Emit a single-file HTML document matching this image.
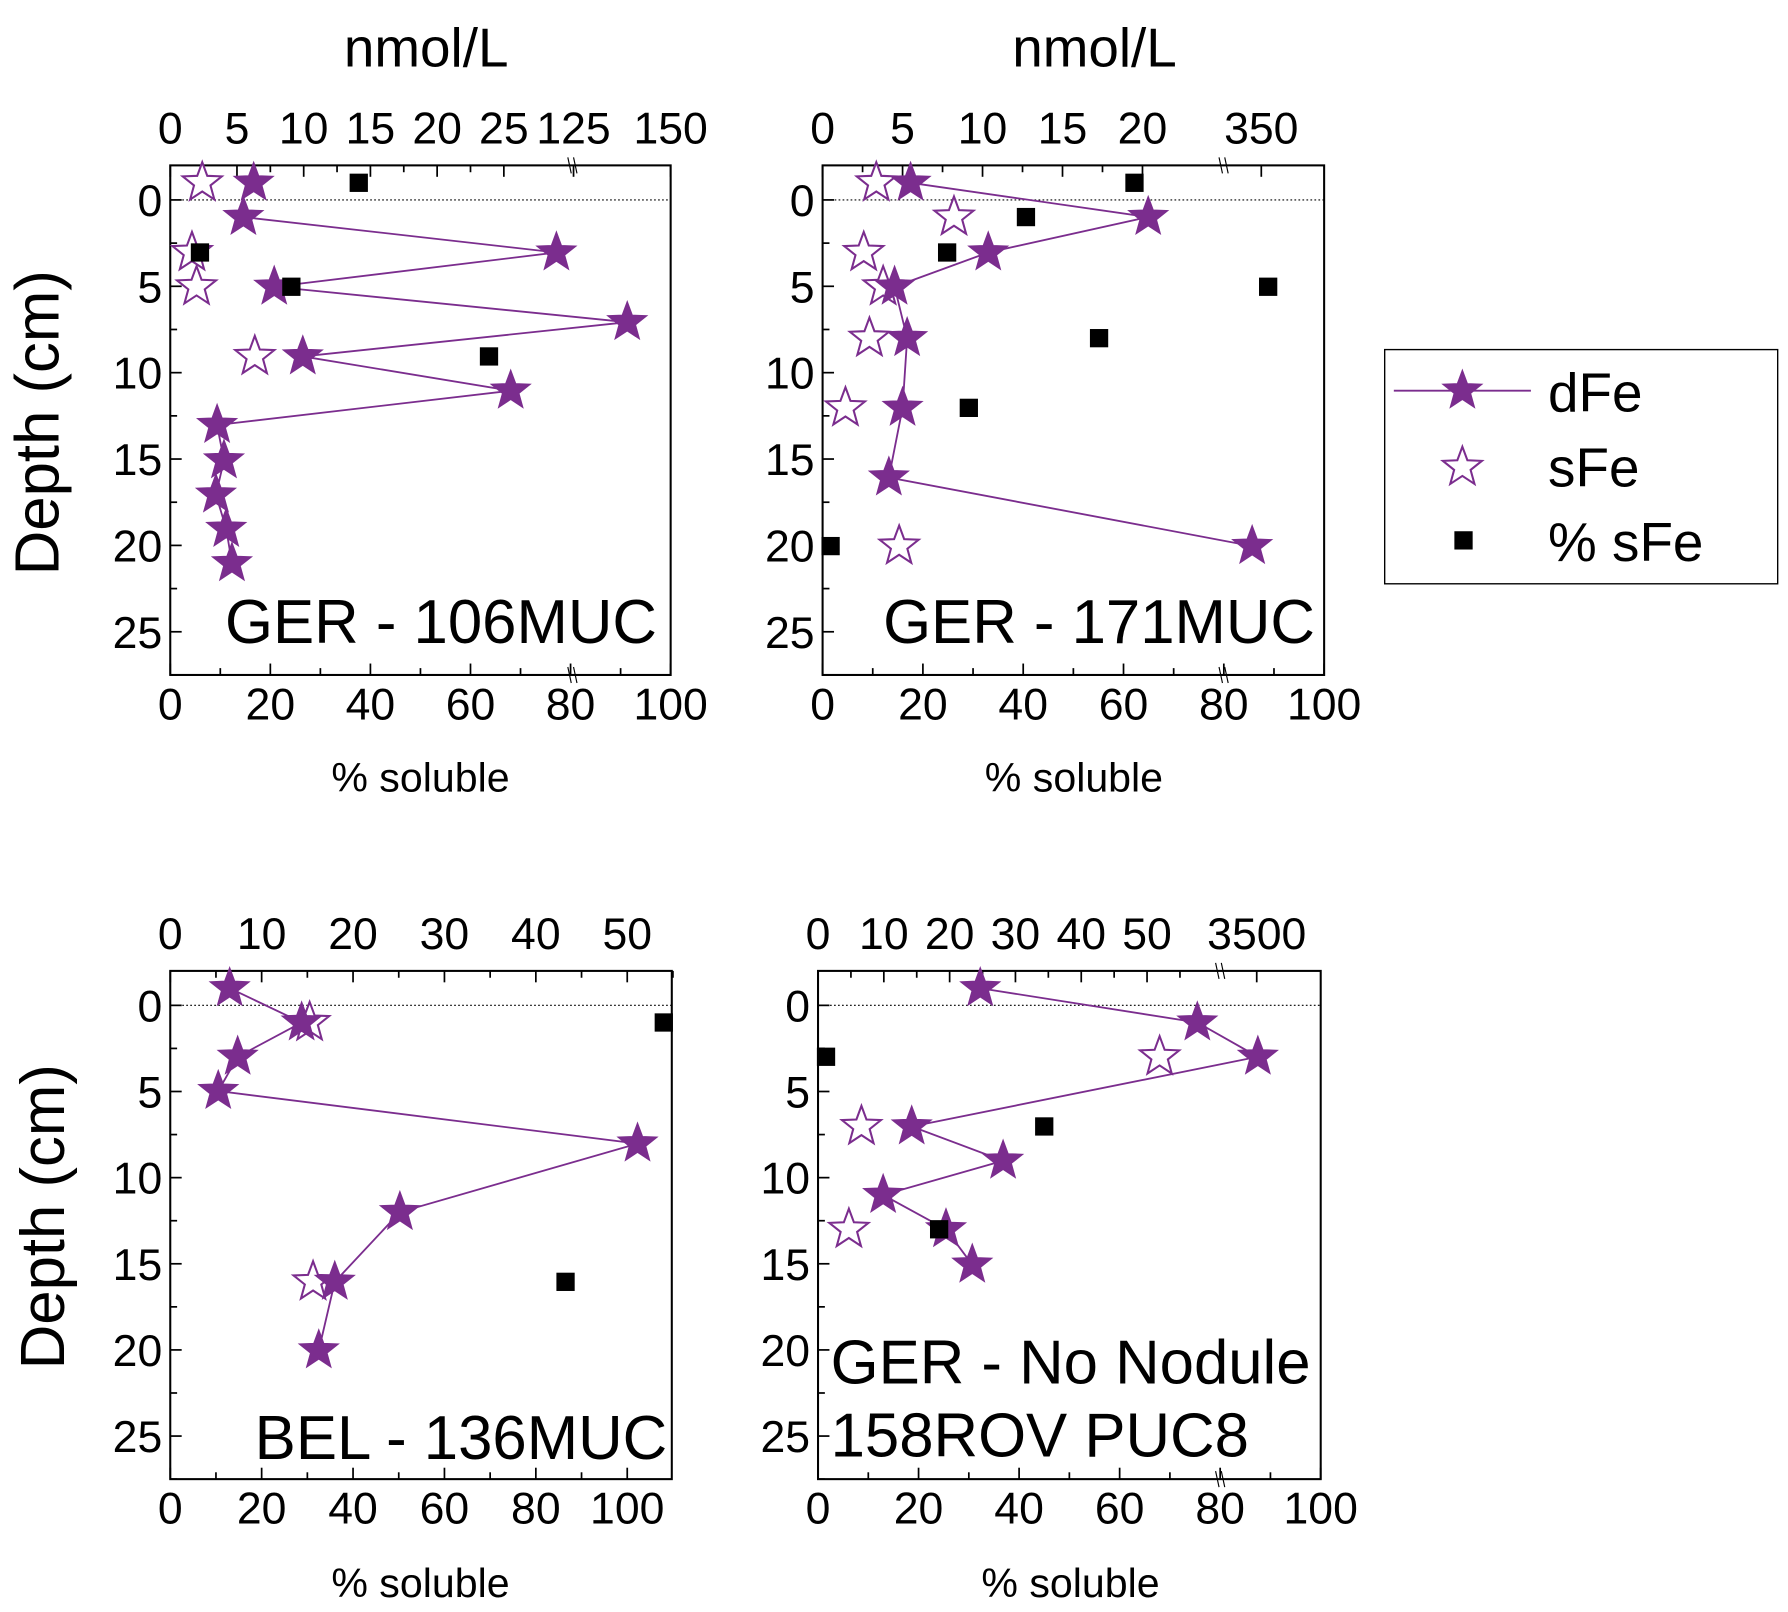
<!DOCTYPE html>
<html><head><meta charset="utf-8"><style>
html,body{margin:0;padding:0;background:#fff}
svg{display:block}
text{font-family:"Liberation Sans",Arial,sans-serif;fill:#000}
</style></head><body>
<svg id="s" width="1788" height="1612" viewBox="0 0 1565 1411" xmlns="http://www.w3.org/2000/svg">
<text x="373" y="58" font-size="48" text-anchor="middle">nmol/L</text>
<text x="958" y="58" font-size="48" text-anchor="middle">nmol/L</text>
<text x="368" y="693" font-size="36" text-anchor="middle">% soluble</text>
<text x="940" y="693" font-size="36" text-anchor="middle">% soluble</text>
<text x="368" y="1398" font-size="36" text-anchor="middle">% soluble</text>
<text x="937" y="1398" font-size="36" text-anchor="middle">% soluble</text>
<text transform="translate(51,370) rotate(-90)" font-size="54" text-anchor="middle">Depth (cm)</text>
<text transform="translate(56,1065) rotate(-90)" font-size="54" text-anchor="middle">Depth (cm)</text>
<text x="575" y="563" font-size="54" text-anchor="end">GER - 106MUC</text>
<text x="1151" y="563" font-size="54" text-anchor="end">GER - 171MUC</text>
<text x="584" y="1277" font-size="54" text-anchor="end">BEL - 136MUC</text>
<text x="727" y="1211" font-size="54">GER - No Nodule</text>
<text x="727" y="1275" font-size="54">158ROV PUC8</text>
<rect x="1212" y="306" width="344" height="205" fill="none" stroke="#000" stroke-width="1.2"/>
<line x1="1220" y1="342" x2="1340" y2="342" stroke="#7b2d8e" stroke-width="1.6"/>
<text x="1355" y="360" font-size="48">dFe</text>
<text x="1355" y="426" font-size="48">sFe</text>
<text x="1355" y="491" font-size="48">% sFe</text>
<g id="g"></g>
</svg>
<script>
var NS="http://www.w3.org/2000/svg",G=document.getElementById('g'),C="#7b2d8e";
function el(t,a,txt){var e=document.createElementNS(NS,t);for(var k in a)e.setAttribute(k,a[k]);if(txt!=null)e.textContent=txt;G.appendChild(e);return e;}
function star(x,y,f,r){r=r||18;var p=[];for(var i=0;i<10;i++){var rr=i%2?r*0.42:r,a=-Math.PI/2+i*Math.PI/5;p.push((x+rr*Math.cos(a)).toFixed(1)+","+(y+rr*Math.sin(a)).toFixed(1));}
el('polygon',{points:p.join(' '),fill:f?C:"#fff",stroke:C,"stroke-width":f?1:1.8});}
function sq(x,y){el('rect',{x:x-8,y:y-8,width:16,height:16,fill:"#000"});}
function line(x1,y1,x2,y2,w,st){var a={x1:x1,y1:y1,x2:x2,y2:y2,stroke:st||"#000","stroke-width":w||1.6};return el('line',a);}
function txt(x,y,s,anc,fs){el('text',{x:x,y:y,"font-size":fs||39,"text-anchor":anc||"middle"},s);}
function panel(o){
 var L=o.L,R=o.R,T=o.y0-2*o.d,B=o.y0+27.5*o.d;
 el('rect',{x:L,y:T,width:R-L,height:B-T,fill:"none",stroke:"#000","stroke-width":1.8});
 line(L,o.y0,R,o.y0,1,"#000").setAttribute("stroke-dasharray","1.5,2");
 for(var c=0;c<=27.5;c+=2.5){var y=o.y0+c*o.d,maj=c%5==0;line(L,y,L+(maj?10:6),y,1.5);if(maj)txt(L-7,y+14,String(c),"end");}
 o.bt.forEach(function(t){line(t[0],B,t[0],B-(t[1]!=null?10:6),1.5);if(t[1]!=null)txt(t[0],B+39,t[1]);});
 o.tt.forEach(function(t){line(t[0],T,t[0],T+(t[1]!=null?10:6),1.5);if(t[1]!=null)txt(t[0],T-19,t[1]);});
 if(o.brk){[T,B].forEach(function(y){line(o.brk-4,y-7,o.brk-1,y+7,1);line(o.brk+1,y-7,o.brk+4,y+7,1);});}
 var p=o.dfe.filter(function(q,i){return i>=(o.skip||0);}).map(function(q){return q.join(',');}).join(' ');
 el('polyline',{points:p,fill:"none",stroke:C,"stroke-width":1.6});
 o.sfe.forEach(function(q){star(q[0],q[1],false);});
 o.dfe.forEach(function(q){star(q[0],q[1],true);});
 o.sq.forEach(function(q){sq(q[0],q[1]);});
}
function pct(L,s,max,lab){var a=[];for(var p=0;p<=max;p+=10)a.push([L+p*s,p%20==0&&p<=100?String(p):null]);return a;}
(function(){var tt=[];for(var v=0;v<=25;v+=2.5)tt.push([149+v*11.68,v%5==0?String(v):null]);tt.push([502,"125"]);tt.push([587,"150"]);
panel({L:149,R:587,y0:175,d:15.12,bt:pct(149,4.38,100),tt:tt,brk:501,
dfe:[[222,160],[213,190],[487,221],[240,251],[549,282],[265,312],[447,342],[190,372],[196,403],[189,433],[198,463],[203,493]],skip:1,
sfe:[[177,160],[168,221],[172,251],[223,312]],sq:[[314,160],[175,221],[255,251],[428,312]]});})();
(function(){var tt=[];for(var v=0;v<=20;v+=2.5)tt.push([720+v*14,v%5==0?String(v):null]);tt.push([1104,"350"]);
panel({L:720,R:1159,y0:175,d:15.12,bt:pct(720,4.39,100),tt:tt,brk:1071,
dfe:[[797,160],[1005,190],[865,221],[783,251],[794,296],[790,357],[778,418],[1096,478]],
sfe:[[767,160],[835,190],[756,221],[773,251],[761,296],[740,357],[787,478]],
sq:[[993,160],[898,190],[829,221],[1110,251],[962,296],[848,357],[727,478]]});})();
(function(){var tt=[];for(var v=0;v<=55;v+=5)tt.push([149+v*8,v%10==0?String(v):null]);
panel({L:149,R:588,y0:880,d:15.08,bt:pct(149,4,100),tt:tt,brk:null,
dfe:[[201,865],[264,895],[208,925],[191,955],[558,1001],[350,1061],[293,1122],[279,1182]],
sfe:[[271,895],[274,1122]],sq:[[581,895],[495,1122]]});})();
(function(){var tt=[];for(var v=0;v<=55;v+=5)tt.push([716+v*5.76,v%10==0?String(v):null]);tt.push([1100,"3500"]);
panel({L:716,R:1156,y0:880,d:15.08,bt:pct(716,4.4,100),tt:tt,brk:1068,
dfe:[[858,865],[1048,895],[1101,925],[798,986],[878,1016],[773,1046],[828,1076],[851,1107]],
sfe:[[1015,925],[754,986],[743,1076]],sq:[[723,925],[914,986],[822,1076]]});})();
star(1280,342,true);star(1280,409,false);sq(1281,473);
</script>
</body></html>
